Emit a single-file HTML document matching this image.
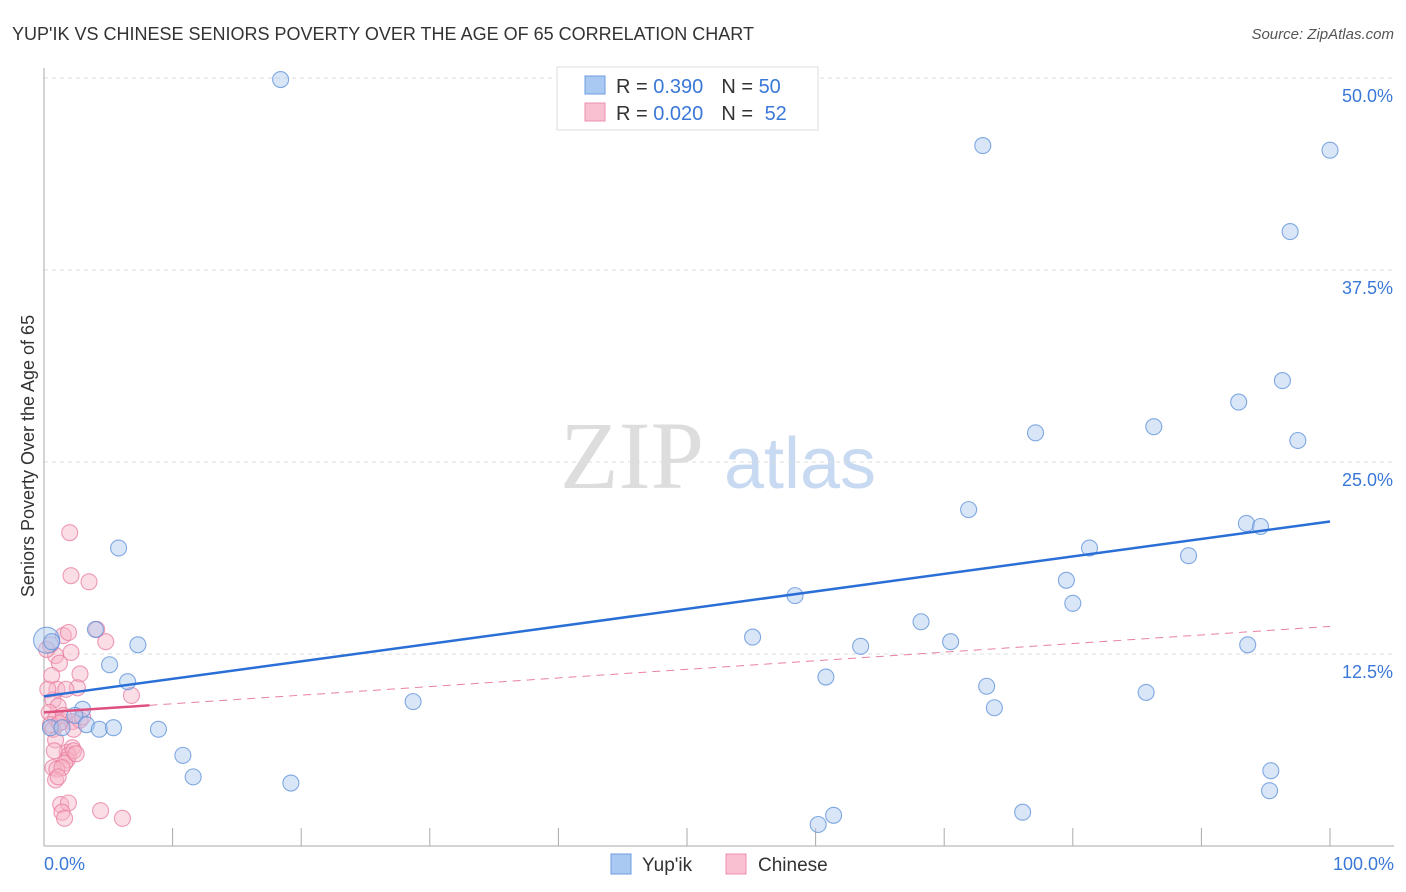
<!DOCTYPE html>
<html><head><meta charset="utf-8"><style>
body{margin:0;background:#fff;font-family:"Liberation Sans",sans-serif}
svg{display:block}
</style></head><body>
<svg width="1406" height="892" xmlns="http://www.w3.org/2000/svg">
<text x="12" y="40" font-size="18" fill="#333">YUP'IK VS CHINESE SENIORS POVERTY OVER THE AGE OF 65 CORRELATION CHART</text>
<text x="1394" y="39" font-size="15" fill="#555" font-style="italic" text-anchor="end">Source: ZipAtlas.com</text>
<g>
<text x="632" y="488" font-size="96" font-family="Liberation Serif,serif" fill="#ddd" text-anchor="middle">ZIP</text>
<text x="800" y="488" font-size="72" fill="#c8daf2" text-anchor="middle">atlas</text>
</g>
<g id="grid"></g>
<g id="axes"></g>
<g id="marks"></g>
<text transform="translate(34,456) rotate(-90)" font-size="18" fill="#333" text-anchor="middle">Seniors Poverty Over the Age of 65</text>
<g>
<rect x="557" y="67" width="261" height="63" fill="#fff" stroke="#ddd"/>
<rect x="585" y="76" width="20" height="18" fill="#a9c8f2" stroke="#6d9de0"/>
<rect x="585" y="103" width="20" height="18" fill="#f8c0d0" stroke="#ec8fb0"/>
<text x="616" y="93" font-size="20" fill="#333">R = <tspan fill="#3a78d8">0.390</tspan><tspan dx="18">N = </tspan><tspan fill="#3a78d8">50</tspan></text>
<text x="616" y="120" font-size="20" fill="#333">R = <tspan fill="#3a78d8">0.020</tspan><tspan dx="18">N = </tspan><tspan dx="6" fill="#3a78d8">52</tspan></text>
</g>
<g>
<rect x="611" y="854" width="20" height="20" fill="#a9c8f2" stroke="#6d9de0"/>
<text x="642" y="871" font-size="19" fill="#333">Yup'ik</text>
<rect x="726" y="854" width="20" height="20" fill="#f8c0d0" stroke="#ec8fb0"/>
<text x="758" y="871" font-size="19" fill="#333">Chinese</text>
</g>
</svg>
<script>
const yTicks=[12.5,25,37.5,50];
const yTickLabels=["12.5%","25.0%","37.5%","50.0%"];
const xTickCount=10;
const yupikX=[18.4,73.0,100,96.9,96.3,92.9,97.5,77.1,86.3,71.9,93.5,94.6,81.3,89.0,79.5,80.0,58.4,68.2,55.1,70.5,63.5,93.6,60.8,73.3,85.7,73.9,95.4,95.3,76.1,61.4,60.2,28.7,19.2,11.6,10.8,8.9,5.8,4.0,7.3,5.1,6.5,3.0,2.4,3.3,4.3,5.4,0.5,0.2,0.6,1.4];
const yupikY=[49.9,45.6,45.3,40.0,30.3,28.9,26.4,26.9,27.3,21.9,21.0,20.8,19.4,18.9,17.3,15.8,16.3,14.6,13.6,13.3,13.0,13.1,11.0,10.4,10.0,9.0,4.9,3.6,2.2,2.0,1.4,9.4,4.1,4.5,5.9,7.6,19.4,14.1,13.1,11.8,10.7,8.9,8.5,7.9,7.6,7.7,7.7,13.4,13.3,7.7];
const chineseX=[2.0,2.1,3.5,4.1,4.8,1.5,2.1,0.9,1.2,2.8,0.6,2.6,1.0,6.8,0.7,1.1,0.4,0.9,1.4,0.5,2.2,1.5,0.7,2.3,1.8,2.2,1.9,1.8,1.6,0.7,1.0,1.4,0.9,1.1,1.3,1.9,1.4,1.6,4.4,6.1,2.3,1.9,0.5,0.2,2.8,0.9,0.8,2.5,1.7,0.3,1.2,3.0];
const chineseY=[20.4,17.6,17.2,14.1,13.3,13.7,12.6,12.4,11.9,11.2,11.1,10.3,10.2,9.8,9.5,9.1,8.7,8.3,8.1,7.9,8.1,8.5,7.6,7.6,6.1,6.4,5.9,5.6,5.4,5.1,5.0,5.1,4.3,4.5,2.7,2.8,2.2,1.8,2.3,1.8,6.2,13.9,13.1,12.8,8.2,6.9,6.2,6.0,10.2,10.2,8.0,8.4];
const chineseTrendStart=8.7, chineseTrendEnd=14.3, chineseSolidEndX=8.2;
const NS="http://www.w3.org/2000/svg";
const X0=44,X1=1330,Y0=846,PXPERPCT=192/12.5;
const sx=v=>X0+(X1-X0)*v/100, sy=v=>Y0-v*PXPERPCT;
function mk(t,a,p){const e=document.createElementNS(NS,t);for(const k in a)e.setAttribute(k,a[k]);p.appendChild(e);return e;}
const grid=document.getElementById('grid'),axes=document.getElementById('axes'),marks=document.getElementById('marks');
yTicks.forEach((t,i)=>{
 const l=mk('line',{x1:X0,x2:1394,y1:sy(t),y2:sy(t),stroke:'#ddd','stroke-dasharray':'4,4'},grid);
 
 
 const tx=mk('text',{x:1393,y:sy(t)+24,'font-size':18,fill:'#3a78d8','text-anchor':'end'},grid);
 tx.textContent=yTickLabels[i];
 
 
});
const ya=mk('line',{x1:X0,x2:X0,y1:68,y2:Y0,stroke:'#aaa'},axes);


const xa=mk('line',{x1:X0,x2:1394,y1:Y0,y2:Y0,stroke:'#aaa'},axes);


for(let i=1;i<=xTickCount;i++){
 const v=i*100/xTickCount;
 const t=mk('line',{x1:sx(v),x2:sx(v),y1:828,y2:Y0,stroke:'#aaa'},axes);
 
 
}
const xl0=mk('text',{x:44,y:870,'font-size':18,fill:'#3a78d8'},axes);xl0.textContent='0.0%';


const xl1=mk('text',{x:1394,y:870,'font-size':18,fill:'#3a78d8','text-anchor':'end'},axes);xl1.textContent='100.0%';


function fit(xs,ys){const n=xs.length;let mx=0,my=0;for(let i=0;i<n;i++){mx+=xs[i];my+=ys[i];}mx/=n;my/=n;let a=0,b=0;for(let i=0;i<n;i++){a+=(xs[i]-mx)*(ys[i]-my);b+=(xs[i]-mx)**2;}const s=a/b;return [my-s*mx,s];}
function pts(xs,ys,fill,stroke,name){
 xs.forEach((x,i)=>{
  const r=(x<0.3&&ys[i]>13.3&&name==='yupik-point')?13:8;
  const c=mk('circle',{cx:sx(x),cy:sy(ys[i]),r:r,fill:fill,'fill-opacity':0.45,stroke:stroke,'stroke-opacity':0.75,'stroke-width':1.1},marks);
  
  
 });
}
pts(chineseX,chineseY,'#f6b3c6','#e87ca0','chinese-point');
pts(yupikX,yupikY,'#a8c8f0','#5b8fd8','yupik-point');
const [bi,bs]=fit(yupikX,yupikY);
const bl=mk('line',{x1:sx(0),y1:sy(bi),x2:sx(100),y2:sy(bi+bs*100),stroke:'#2a6fd6','stroke-width':2.5},marks);


const cs=(chineseTrendEnd-chineseTrendStart)/100;
const cl=mk('line',{x1:sx(0),y1:sy(chineseTrendStart),x2:sx(chineseSolidEndX),y2:sy(chineseTrendStart+cs*chineseSolidEndX),stroke:'#e0507f','stroke-width':2.5},marks);


const cd=mk('line',{x1:sx(chineseSolidEndX),y1:sy(chineseTrendStart+cs*chineseSolidEndX),x2:sx(100),y2:sy(chineseTrendEnd),stroke:'#e8819f','stroke-width':1,'stroke-dasharray':'8,6'},marks);


</script>
</body></html>
